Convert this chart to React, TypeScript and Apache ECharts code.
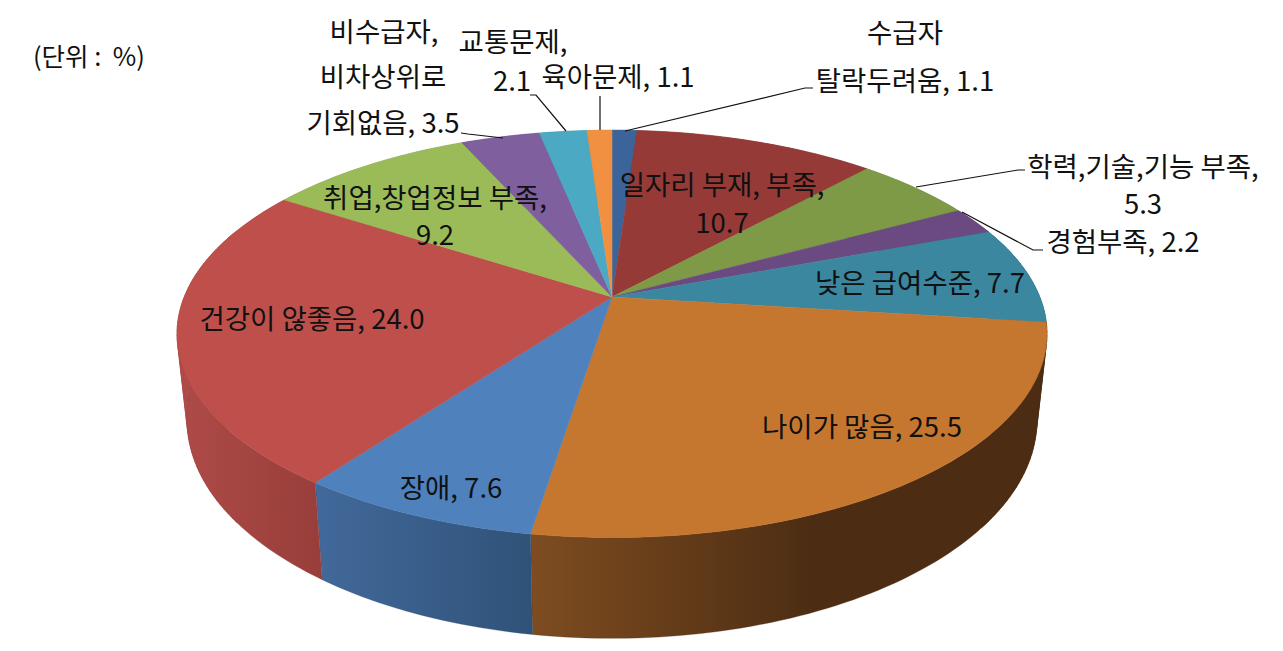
import React, { useEffect, useRef } from "react";
import * as echarts from "echarts";

const NAMES = ["수급자 탈락두려움", "일자리 부재, 부족", "학력,기술,기능 부족", "경험부족", "낮은 급여수준", "나이가 많음", "장애", "건강이 않좋음", "취업,창업정보 부족", "비수급자, 비차상위로 기회없음", "교통문제", "육아문제"];
const VALUES = [1.1, 10.7, 5.3, 2.2, 7.7, 25.5, 7.6, 24.0, 9.2, 3.5, 2.1, 1.1];
const TOP_COLORS = ["#3B659A", "#963A38", "#7F9A47", "#6A4A80", "#3B87A0", "#C6772F", "#4F81BD", "#BE4F4B", "#9BBB59", "#7F5F9E", "#4BA9C4", "#F09040"];
const WALL_COLORS: [string, string][] = [
  ["#2F4F78", "#2F4F78"], ["#7A2E2C", "#7A2E2C"], ["#64793A", "#64793A"], ["#543B66", "#543B66"],
  ["#2F6A7E", "#2F6A7E"], ["#7E4C20", "#4C2D13"], ["#42699B", "#2F5278"], ["#AE4B48", "#983E3A"],
  ["#7C9647", "#7C9647"], ["#65497F", "#65497F"], ["#3B879C", "#3B879C"], ["#C07030", "#C07030"],
];

const LABELS: [string, number, number][] = [
  ["비수급자,", 384, 30], ["비차상위로", 383, 75], ["교통문제,", 513, 40], ["2.1", 512, 79],
  ["육아문제, 1.1", 618, 75], ["수급자", 905, 31], ["탈락두려움, 1.1", 905, 79], ["기회없음, 3.5", 383, 121],
  ["일자리 부재, 부족,", 722, 183], ["10.7", 722, 221], ["학력,기술,기능 부족,", 1143, 165], ["5.3", 1143, 202],
  ["경험부족, 2.2", 1123, 239.5], ["낮은 급여수준, 7.7", 920, 281], ["나이가 많음, 25.5", 862, 425],
  ["장애, 7.6", 451, 486], ["건강이 않좋음, 24.0", 312, 317], ["취업,창업정보 부족,", 435, 196], ["9.2", 435, 233],
];
const LEADERS: number[][][] = [
  [[461, 133], [468, 134], [503, 138]],
  [[530, 95], [536, 95], [566, 131]],
  [[600, 96], [600, 130]],
  [[625, 131], [805, 88], [813, 88]],
  [[916, 187], [1018, 170], [1025, 170]],
  [[962, 212], [1033, 250], [1043, 250]],
];

// perspective model of the disc
const CX = 612;
const TOP = { a: 427.8, b: 197, p: 0.181, y: 297 };
const BOTTOM = { a: 418, b: 211, p: 0.18, y: 381 };
const project = (f: typeof TOP, pct: number) => {
  const t = (pct / 100) * Math.PI * 2;
  const u = Math.sin(t);
  const v = -Math.cos(t);
  const w = 1 - f.p * v;
  return [CX + (f.a * u) / w, f.y + (f.b * v) / w];
};
const total = VALUES.reduce((s, v) => s + v, 0);
const starts = VALUES.map((_, i) => VALUES.slice(0, i).reduce((s, v) => s + v, 0));
const arc = (f: typeof TOP, i: number) => {
  const pts: number[][] = [];
  const n = Math.max(4, Math.ceil(VALUES[i] * 3));
  for (let k = 0; k <= n; k++) {
    pts.push(project(f, ((starts[i] + (VALUES[i] * k) / n) / total) * 100));
  }
  return pts;
};

export default function App() {
  const ref = useRef<HTMLDivElement>(null);
  useEffect(() => {
    const chart = echarts.init(ref.current!, undefined, { renderer: "svg" });
    const font = '"Noto Sans CJK KR", "Noto Sans", sans-serif';
    const data = VALUES.map((v, i) => ({ name: NAMES[i], value: v }));
    chart.setOption({
      animation: false,
      backgroundColor: "#ffffff",
      graphic: [
        { type: "text", x: 33, y: 54, z: 10, style: { text: "(단위 :  %)", font: `25.5px ${font}`, fill: "#111", verticalAlign: "middle" } },
        ...LABELS.map(([text, x, y]) => ({
          type: "text", x, y, z: 10,
          style: { text, font: `27.5px ${font}`, fill: "#111", align: "center", verticalAlign: "middle" },
        })),
        ...LEADERS.map((points) => ({
          type: "polyline", z: 9, shape: { points },
          style: { stroke: "#111", lineWidth: 1.2, fill: "none" },
        })),
      ],
      series: [
        {
          type: "custom", coordinateSystem: "none", silent: true, z: 1, data,
          renderItem: (params: any) => {
            const i = params.dataIndex;
            const t = arc(TOP, i);
            const b = arc(BOTTOM, i);
            const pts = t.concat(b.slice().reverse());
            const [c0, c1] = WALL_COLORS[i];
            // per-segment quads fill the silhouette between top and bottom discs
            const quads = t.slice(1).map((p, k) => ({
              type: "polygon",
              shape: { points: [t[k], p, b[k + 1], b[k]] },
              style: { fill: p[0] < CX ? c0 : c1, stroke: p[0] < CX ? c0 : c1, lineWidth: 0.3 },
            })).filter((q) => Math.abs(q.shape.points[0][0] - CX) > 380);
            return {
              type: "group",
              children: [
                ...quads,
                {
                  type: "polygon", shape: { points: pts },
                  style: {
                    fill: new echarts.graphic.LinearGradient(0, 0, 1, 0, [
                      { offset: 0, color: c0 }, { offset: i === 5 ? 0.55 : 1, color: c1 }, { offset: 1, color: c1 },
                    ]),
                    stroke: c1, lineWidth: 0.3,
                  },
                },
              ],
            };
          },
        },
        {
          type: "custom", coordinateSystem: "none", silent: true, z: 2, data,
          renderItem: (params: any) => {
            const i = params.dataIndex;
            return {
              type: "polygon",
              shape: { points: [[CX, TOP.y], ...arc(TOP, i)] },
              style: { fill: TOP_COLORS[i], stroke: TOP_COLORS[i], lineWidth: 0.5 },
            };
          },
        },
      ],
    });
    return () => chart.dispose();
  }, []);
  return <div ref={ref} style={{ position: "fixed", left: 0, top: 0, width: 1283, height: 651 }} />;
}
